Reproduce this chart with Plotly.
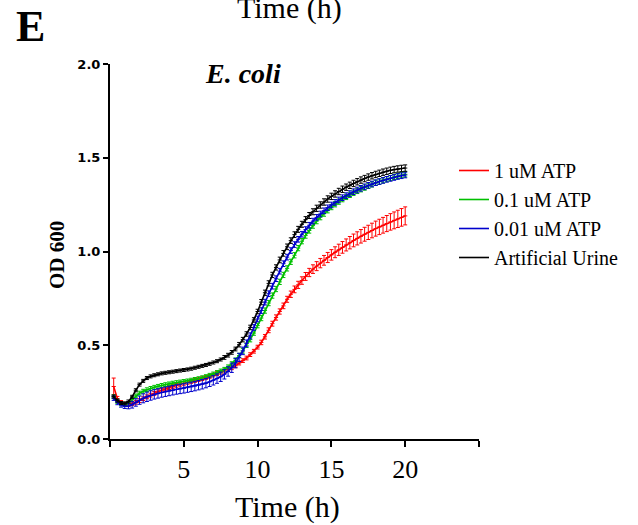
import numpy as np
import plotly.graph_objects as go

# Time points (h)
time_h = np.arange(0.25, 20.001, 0.25)

series_names = ["1 uM ATP", "0.1 uM ATP", "0.01 uM ATP", "Artificial Urine"]
series_colors = ["#ff0000", "#00c000", "#0000cc", "#000000"]

od_1uM = [
    0.280, 0.215, 0.195, 0.185, 0.183, 0.188, 0.196, 0.205, 0.215, 0.225,
    0.234, 0.243, 0.252, 0.260, 0.267, 0.274, 0.280, 0.286, 0.292, 0.297,
    0.302, 0.307, 0.312, 0.317, 0.322, 0.328, 0.334, 0.341, 0.349, 0.356,
    0.362, 0.372, 0.380, 0.390, 0.405, 0.418, 0.432, 0.450, 0.468, 0.490,
    0.515, 0.545, 0.580, 0.615, 0.648, 0.680, 0.710, 0.745, 0.772, 0.798,
    0.822, 0.845, 0.867, 0.888, 0.906, 0.922, 0.938, 0.953, 0.968, 0.982,
    0.996, 1.009, 1.022, 1.035, 1.047, 1.059, 1.070, 1.081, 1.092, 1.102,
    1.112, 1.122, 1.131, 1.140, 1.149, 1.158, 1.166, 1.174, 1.182, 1.190,
]
err_1uM = [
    0.045, 0.012, 0.010, 0.010, 0.010, 0.010, 0.010, 0.010, 0.010, 0.010,
    0.010, 0.010, 0.010, 0.010, 0.010, 0.010, 0.010, 0.010, 0.010, 0.010,
    0.010, 0.010, 0.010, 0.010, 0.010, 0.010, 0.010, 0.010, 0.010, 0.010,
    0.010, 0.010, 0.010, 0.010, 0.010, 0.010, 0.010, 0.010, 0.010, 0.010,
    0.012, 0.012, 0.013, 0.013, 0.014, 0.014, 0.015, 0.016, 0.017, 0.018,
    0.019, 0.020, 0.021, 0.022, 0.023, 0.024, 0.025, 0.026, 0.027, 0.028,
    0.029, 0.030, 0.031, 0.032, 0.033, 0.034, 0.035, 0.036, 0.037, 0.038,
    0.039, 0.040, 0.041, 0.042, 0.043, 0.044, 0.045, 0.046, 0.047, 0.048,
]

od_01uM = [
    0.225, 0.200, 0.188, 0.183, 0.190, 0.210, 0.230, 0.245, 0.255, 0.263,
    0.270, 0.276, 0.281, 0.286, 0.290, 0.294, 0.298, 0.301, 0.304, 0.307,
    0.310, 0.314, 0.318, 0.322, 0.327, 0.333, 0.340, 0.347, 0.355, 0.363,
    0.372, 0.385, 0.400, 0.420, 0.445, 0.470, 0.500, 0.530, 0.565, 0.605,
    0.645, 0.685, 0.725, 0.765, 0.800, 0.838, 0.875, 0.910, 0.945, 0.980,
    1.018, 1.055, 1.085, 1.112, 1.138, 1.162, 1.183, 1.202, 1.220, 1.237,
    1.252, 1.266, 1.279, 1.291, 1.302, 1.313, 1.323, 1.332, 1.341, 1.350,
    1.358, 1.366, 1.373, 1.380, 1.386, 1.392, 1.398, 1.403, 1.408, 1.412,
]
err_01uM = [
    0.010, 0.010, 0.010, 0.010, 0.010, 0.010, 0.010, 0.010, 0.010, 0.010,
    0.010, 0.010, 0.010, 0.010, 0.010, 0.010, 0.010, 0.010, 0.010, 0.010,
    0.010, 0.010, 0.010, 0.010, 0.010, 0.010, 0.010, 0.010, 0.010, 0.010,
    0.010, 0.010, 0.012, 0.012, 0.012, 0.012, 0.012, 0.012, 0.012, 0.012,
    0.014, 0.014, 0.014, 0.014, 0.014, 0.014, 0.014, 0.014, 0.014, 0.014,
    0.014, 0.014, 0.014, 0.014, 0.014, 0.014, 0.014, 0.014, 0.014, 0.014,
    0.014, 0.014, 0.014, 0.014, 0.014, 0.014, 0.014, 0.014, 0.014, 0.014,
    0.014, 0.014, 0.014, 0.014, 0.014, 0.014, 0.014, 0.014, 0.014, 0.014,
]

od_001uM = [
    0.218, 0.195, 0.182, 0.175, 0.176, 0.183, 0.195, 0.207, 0.217, 0.225,
    0.232, 0.238, 0.243, 0.248, 0.252, 0.256, 0.260, 0.264, 0.267, 0.270,
    0.274, 0.278, 0.282, 0.287, 0.292, 0.298, 0.305, 0.313, 0.322, 0.332,
    0.345, 0.360, 0.380, 0.405, 0.435, 0.470, 0.510, 0.550, 0.595, 0.640,
    0.685, 0.730, 0.775, 0.815, 0.855, 0.895, 0.935, 0.970, 1.005, 1.037,
    1.065, 1.092, 1.117, 1.140, 1.162, 1.182, 1.200, 1.217, 1.233, 1.248,
    1.262, 1.275, 1.287, 1.298, 1.309, 1.319, 1.328, 1.337, 1.345, 1.353,
    1.360, 1.367, 1.373, 1.379, 1.385, 1.390, 1.395, 1.400, 1.404, 1.408,
]
err_001uM = [
    0.012, 0.012, 0.012, 0.012, 0.015, 0.018, 0.020, 0.022, 0.024, 0.025,
    0.025, 0.025, 0.025, 0.025, 0.025, 0.025, 0.025, 0.025, 0.025, 0.025,
    0.025, 0.025, 0.025, 0.025, 0.025, 0.025, 0.025, 0.025, 0.025, 0.025,
    0.025, 0.025, 0.025, 0.025, 0.022, 0.020, 0.018, 0.016, 0.015, 0.015,
    0.015, 0.015, 0.015, 0.015, 0.015, 0.015, 0.015, 0.015, 0.015, 0.015,
    0.015, 0.015, 0.015, 0.015, 0.015, 0.015, 0.015, 0.015, 0.015, 0.015,
    0.015, 0.015, 0.015, 0.015, 0.015, 0.015, 0.015, 0.015, 0.015, 0.015,
    0.015, 0.015, 0.015, 0.015, 0.015, 0.015, 0.015, 0.015, 0.015, 0.015,
]

od_urine = [
    0.227, 0.205, 0.192, 0.190, 0.200, 0.225, 0.260, 0.290, 0.310, 0.325,
    0.334, 0.340, 0.345, 0.350, 0.353, 0.356, 0.359, 0.362, 0.365, 0.368,
    0.371, 0.375, 0.380, 0.385, 0.390, 0.395, 0.401, 0.408, 0.415, 0.424,
    0.435, 0.447, 0.462, 0.480, 0.503, 0.530, 0.560, 0.595, 0.635, 0.680,
    0.730, 0.780, 0.830, 0.875, 0.915, 0.955, 0.990, 1.025, 1.058, 1.090,
    1.118, 1.145, 1.170, 1.192, 1.212, 1.230, 1.248, 1.264, 1.280, 1.294,
    1.307, 1.320, 1.332, 1.343, 1.353, 1.363, 1.372, 1.381, 1.389, 1.397,
    1.404, 1.411, 1.417, 1.423, 1.428, 1.433, 1.437, 1.440, 1.443, 1.445,
]
err_urine = [
    0.008, 0.008, 0.008, 0.008, 0.008, 0.008, 0.008, 0.008, 0.008, 0.008,
    0.008, 0.008, 0.008, 0.008, 0.008, 0.008, 0.008, 0.008, 0.008, 0.008,
    0.008, 0.008, 0.008, 0.008, 0.008, 0.008, 0.008, 0.008, 0.008, 0.008,
    0.010, 0.010, 0.010, 0.010, 0.012, 0.012, 0.012, 0.012, 0.012, 0.012,
    0.014, 0.014, 0.014, 0.014, 0.014, 0.015, 0.015, 0.015, 0.015, 0.015,
    0.016, 0.016, 0.016, 0.016, 0.016, 0.017, 0.017, 0.017, 0.017, 0.017,
    0.017, 0.017, 0.017, 0.017, 0.017, 0.017, 0.017, 0.017, 0.017, 0.017,
    0.017, 0.017, 0.017, 0.017, 0.017, 0.017, 0.017, 0.017, 0.017, 0.017,
]

x_tick_vals = [0, 5, 10, 15, 20, 25]
x_tick_text = ["", "5", "10", "15", "20", ""]
y_tick_vals = [0, 0.5, 1.0, 1.5, 2.0]
y_tick_text = ["0.0", "0.5", "1.0", "1.5", "2.0"]

all_values = [od_1uM, od_01uM, od_001uM, od_urine]
all_errors = [err_1uM, err_01uM, err_001uM, err_urine]

SERIF = "Liberation Serif, Times New Roman, serif"
SANS_BOLD = "DejaVu Sans, Verdana, sans-serif"

# plot-area geometry in page pixels (for placing free text)
L, T, W, H = 110, 64, 369, 375
def px(x):
    return (x - L) / W
def py(y):
    return (T + H - y) / H

fig = go.Figure()
for name, color, vals, errs in zip(series_names, series_colors, all_values, all_errors):
    fig.add_trace(go.Scatter(
        x=time_h, y=vals, name=name, mode="lines+markers",
        line=dict(color=color, width=1.6),
        marker=dict(color=color, size=3, symbol="line-ew", line=dict(color=color, width=1)),
        error_y=dict(type="data", array=errs, visible=True, color=color, thickness=1, width=2),
    ))

fig.update_layout(
    width=638, height=525,
    margin=dict(l=L, r=638 - L - W, t=T, b=525 - T - H),
    paper_bgcolor="white", plot_bgcolor="white",
    showlegend=True,
    legend=dict(
        x=px(454), y=py(151), xanchor="left", yanchor="top",
        font=dict(family=SERIF, size=20, color="black"),
        bgcolor="rgba(0,0,0,0)", itemwidth=30,
    ),
    xaxis=dict(
        range=[0, 25], tickmode="array", tickvals=x_tick_vals, ticktext=x_tick_text,
        showline=True, linecolor="black", linewidth=2, mirror=False,
        ticks="outside", ticklen=6, tickwidth=2, tickcolor="black",
        showgrid=False, zeroline=False,
        tickfont=dict(family=SERIF, size=26, color="black"),
        ticklabelstandoff=0,
    ),
    yaxis=dict(
        range=[0, 2.0], tickmode="array", tickvals=y_tick_vals,
        ticktext=["<b>" + t + "</b>" for t in y_tick_text],
        showline=True, linecolor="black", linewidth=2, mirror=False,
        ticks="outside", ticklen=5, tickwidth=2, tickcolor="black",
        showgrid=False, zeroline=False,
        tickfont=dict(family=SANS_BOLD, size=13, color="black"),
    ),
    annotations=[
        dict(text="<b>E</b>", xref="paper", yref="paper", x=px(30), y=py(27),
             xanchor="center", yanchor="middle", showarrow=False,
             font=dict(family=SERIF, size=44, color="black")),
        dict(text="Time (h)", xref="paper", yref="paper", x=px(289), y=py(8),
             xanchor="center", yanchor="middle", showarrow=False,
             font=dict(family=SERIF, size=30, color="black")),
        dict(text="<b><i>E. coli</i></b>", xref="paper", yref="paper", x=px(243), y=py(73),
             xanchor="center", yanchor="middle", showarrow=False,
             font=dict(family=SERIF, size=28, color="black")),
        dict(text="<b>OD 600</b>", xref="paper", yref="paper", x=px(57), y=py(255),
             xanchor="center", yanchor="middle", showarrow=False, textangle=-90,
             font=dict(family=SERIF, size=21, color="black")),
        dict(text="Time (h)", xref="paper", yref="paper", x=px(287), y=py(507),
             xanchor="center", yanchor="middle", showarrow=False,
             font=dict(family=SERIF, size=30, color="black")),
    ],
)

fig.write_html(
    "out.html",
    config={"displayModeBar": False},
    post_script="document.body.style.margin='0';document.body.style.overflow='hidden';",
)
